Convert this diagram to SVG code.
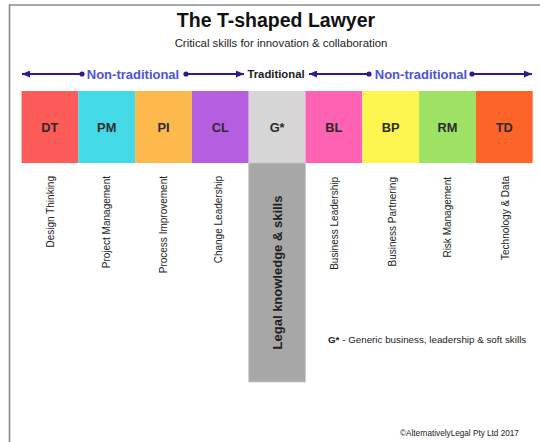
<svg xmlns="http://www.w3.org/2000/svg" width="540" height="442" viewBox="0 0 540 442">
  <style>
    .title { font-family: "Liberation Sans", Arial, sans-serif; font-weight: bold; font-size: 19.5px; fill: #111; }
    .sub { font-family: "Liberation Sans", Arial, sans-serif; font-size: 11.4px; fill: #222; }
    .band { font-family: "Liberation Sans", Arial, sans-serif; font-weight: bold; font-size: 13px; fill: #4a55d6; }
    .trad { font-family: "Liberation Sans", Arial, sans-serif; font-weight: bold; font-size: 11.3px; fill: #1a1a1a; }
    .code { font-family: "Liberation Sans", Arial, sans-serif; font-weight: bold; font-size: 12.8px; fill: #2a2a2a; text-anchor: middle; }
    .skill { font-family: "Liberation Sans", Arial, sans-serif; font-size: 10px; fill: #222; text-anchor: end; }
    .legal { font-family: "Liberation Sans", Arial, sans-serif; font-weight: bold; font-size: 13px; fill: #1e1e1e; text-anchor: middle; }
    .note { font-family: "Liberation Sans", Arial, sans-serif; font-size: 9.8px; fill: #222; }
    .copy { font-family: "Liberation Sans", Arial, sans-serif; font-size: 8.2px; fill: #222; }
    .conn { stroke: #2f1b8f; stroke-width: 2; fill: none; }
  </style>
  <defs>
    <marker id="arrow" viewBox="0 0 8 7" refX="8" refY="3.5" markerWidth="8" markerHeight="7" markerUnits="userSpaceOnUse" orient="auto-start-reverse">
      <path d="M0,0 L8,3.5 L0,7 z" fill="#2f1b8f"/>
    </marker>
    <marker id="dot" viewBox="0 0 6 6" refX="3" refY="3" markerWidth="6" markerHeight="6" markerUnits="userSpaceOnUse">
      <circle cx="3" cy="3" r="2.6" fill="#2f1b8f"/>
    </marker>
  </defs>

  <rect x="0" y="0" width="540" height="442" fill="#ffffff"/>
  <!-- frame -->
  <path d="M9.5,442 V5 H540" fill="none" stroke="#8a8a8a" stroke-width="1.6"/>

  <!-- heading -->
  <text class="title" x="276" y="27" text-anchor="middle">The T-shaped Lawyer</text>
  <text class="sub" x="281" y="47" text-anchor="middle">Critical skills for innovation &amp; collaboration</text>

  <!-- range connectors -->
  <g id="connectors">
    <line class="conn" x1="22" y1="74" x2="82" y2="74" marker-start="url(#arrow)" marker-end="url(#dot)"/>
    <line class="conn" x1="186" y1="74" x2="244" y2="74" marker-start="url(#dot)" marker-end="url(#arrow)"/>
    <line class="conn" x1="309" y1="74" x2="369" y2="74" marker-start="url(#arrow)" marker-end="url(#dot)"/>
    <line class="conn" x1="472" y1="74" x2="532" y2="74" marker-start="url(#dot)" marker-end="url(#arrow)"/>
  </g>
  <g id="range-labels">
    <text class="band" x="133" y="78.5" text-anchor="middle">Non-traditional</text>
    <text class="trad" x="276" y="78" text-anchor="middle">Traditional</text>
    <text class="band" x="421" y="78.5" text-anchor="middle">Non-traditional</text>
  </g>

  <!-- skill columns -->
  <g id="DT">
    <rect x="21.5" y="91" width="56.8" height="72" fill="#fd5a5a"/>
    <text class="code" x="49.9" y="131.5">DT</text>
    <text class="skill" transform="translate(49.9,176) rotate(-90)" x="0" y="3.6">Design Thinking</text>
  </g>
  <g id="PM">
    <rect x="78.3" y="91" width="56.8" height="72" fill="#43d9e6"/>
    <text class="code" x="106.7" y="131.5">PM</text>
    <text class="skill" transform="translate(106.2,176) rotate(-90)" x="0" y="3.6">Project Management</text>
  </g>
  <g id="PI">
    <rect x="135.1" y="91" width="56.8" height="72" fill="#fdb94b"/>
    <text class="code" x="163.5" y="131.5">PI</text>
    <text class="skill" transform="translate(163.2,176) rotate(-90)" x="0" y="3.6">Process Improvement</text>
  </g>
  <g id="CL">
    <rect x="191.9" y="91" width="56.8" height="72" fill="#b55fe0"/>
    <text class="code" x="220.3" y="131.5">CL</text>
    <text class="skill" transform="translate(218.5,176) rotate(-90)" x="0" y="3.6">Change Leadership</text>
  </g>
  <g id="G">
    <rect x="248.7" y="91" width="56.8" height="72" fill="#d6d6d6"/>
    <rect x="248.7" y="163" width="56.8" height="219" fill="#a7a7a7" stroke="#c9c9c9" stroke-width="0.8"/>
    <text class="code" x="277.1" y="131.5">G*</text>
    <text class="legal" transform="translate(277.1,272.5) rotate(-90)" x="0" y="4.6">Legal knowledge &amp; skills</text>
  </g>
  <g id="BL">
    <rect x="305.5" y="91" width="56.8" height="72" fill="#fe62b2"/>
    <text class="code" x="333.9" y="131.5">BL</text>
    <text class="skill" transform="translate(334.2,177) rotate(-90)" x="0" y="3.6">Business Leadership</text>
  </g>
  <g id="BP">
    <rect x="362.3" y="91" width="56.8" height="72" fill="#fdf550"/>
    <text class="code" x="390.7" y="131.5">BP</text>
    <text class="skill" transform="translate(392,177) rotate(-90)" x="0" y="3.6">Business Partnering</text>
  </g>
  <g id="RM">
    <rect x="419.1" y="91" width="56.8" height="72" fill="#9de265"/>
    <text class="code" x="447.5" y="131.5">RM</text>
    <text class="skill" transform="translate(447.8,177) rotate(-90)" x="0" y="3.6">Risk Management</text>
  </g>
  <g id="TD">
    <rect x="475.9" y="91" width="56.8" height="72" fill="#fd6428"/>
    <text class="code" x="504.3" y="131.5">TD</text>
    <text class="skill" transform="translate(505.8,176) rotate(-90)" x="0" y="3.6">Technology &amp; Data</text>
  </g>

  <!-- key and credit -->
  <text class="note" x="328" y="342.5"><tspan font-weight="bold">G*</tspan> - Generic business, leadership &amp; soft skills</text>
  <text class="copy" x="400" y="436">©AlternativelyLegal Pty Ltd 2017</text>
</svg>
